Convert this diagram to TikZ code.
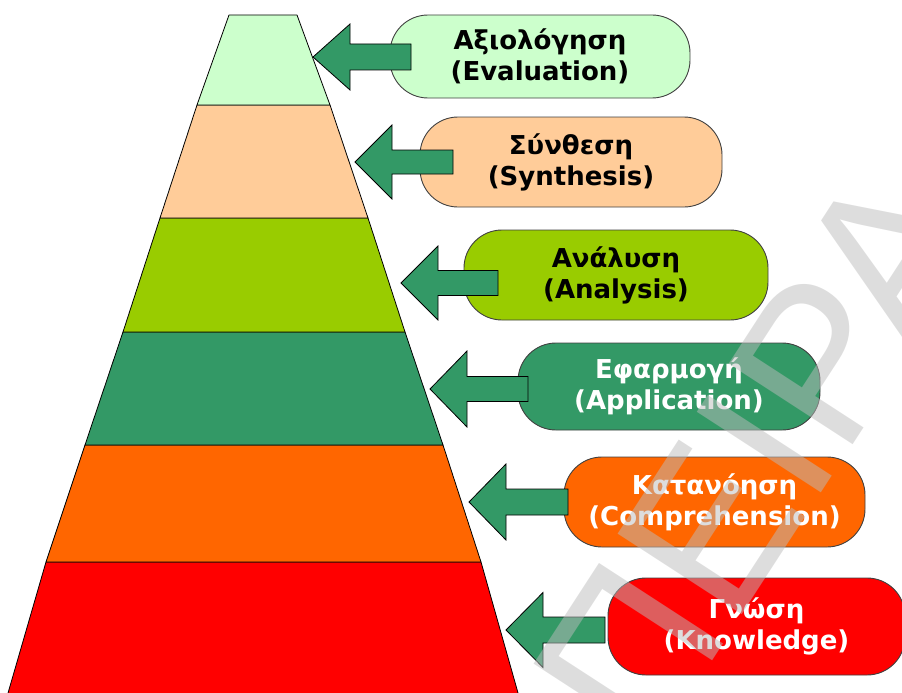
\documentclass[tikz,border=0pt]{standalone}
\usepackage{fontspec}
\setmainfont{DejaVu Sans}
\newfontfamily\markfont{Liberation Sans}
\definecolor{lvlsix}{RGB}{204,255,204}
\definecolor{lvlfive}{RGB}{255,204,153}
\definecolor{lvlfour}{RGB}{153,204,0}
\definecolor{lvlthree}{RGB}{51,153,102}
\definecolor{lvltwo}{RGB}{255,102,0}
\definecolor{lvlone}{RGB}{255,0,0}
\definecolor{arrowgreen}{RGB}{51,153,102}
\definecolor{wmgray}{RGB}{188,188,188}
% block arrow pointing left: tip x, y, tail x, head half-height, shaft half-height
\newcommand\levelarrow[5]{%
  \draw[blockarrow] (#1,#2) -- (#1+37,#2-#4) -- (#1+37,#2-#5) -- (#3,#2-#5)
    -- (#3,#2+#5) -- (#1+37,#2+#5) -- (#1+37,#2+#4) -- cycle;}
\begin{document}
\begin{tikzpicture}[x=1pt,y=-1pt,
  band/.style={draw=black,line width=0.8pt,line join=round},
  levelbox/.style={draw=black!75,line width=0.9pt,rounded corners=38pt,
    inner sep=0pt,align=center,font=\fontsize{26}{31}\selectfont\bfseries},
  blockarrow/.style={fill=arrowgreen,draw=black,line width=0.8pt,line join=miter}]
\useasboundingbox (0,0) rectangle (902,693);
\clip (0,0) rectangle (902,693);

% pyramid, bottom band first
\path[band,fill=lvlone]   (46,562) -- (481,562) -- (520,700) -- (6,700) -- cycle;
\path[band,fill=lvltwo]   (85,445) -- (443,445) -- (481,562) -- (46,562) -- cycle;
\path[band,fill=lvlthree] (123,332) -- (405,332) -- (443,445) -- (85,445) -- cycle;
\path[band,fill=lvlfour]  (160,218) -- (368,218) -- (405,332) -- (123,332) -- cycle;
\path[band,fill=lvlfive]  (197,105) -- (330,105) -- (368,218) -- (160,218) -- cycle;
\path[band,fill=lvlsix]   (229,15) -- (297,15) -- (330,105) -- (197,105) -- cycle;

% level labels
\node[levelbox,fill=lvlsix,minimum width=300pt,minimum height=83pt] (eval) at (540,56.5)
  {Αξιολόγηση\\(Evaluation)};
\node[levelbox,fill=lvlfive,minimum width=302pt,minimum height=90pt] (synth) at (571,162)
  {Σύνθεση\\(Synthesis)};
\node[levelbox,fill=lvlfour,minimum width=304pt,minimum height=90pt] (anal) at (616,275)
  {Ανάλυση\\(Analysis)};
\node[levelbox,fill=lvlthree,text=white,minimum width=302pt,minimum height=87pt] (appl) at (669,386.5)
  {Εφαρμογή\\(Application)};
\node[levelbox,fill=lvltwo,text=white,minimum width=301pt,minimum height=90pt] (compr) at (714.5,502)
  {Κατανόηση\\(Comprehension)};
\node[levelbox,fill=lvlone,text=white,minimum width=297pt,minimum height=97pt] (know) at (756.5,626.5)
  {Γνώση\\(Knowledge)};

% arrows from the labels to the pyramid levels
\levelarrow{313}{57}{411}{33}{13}
\levelarrow{355}{162}{453}{37}{12}
\levelarrow{401}{283}{498}{37}{12.5}
\levelarrow{430}{389}{528}{38}{12.5}
\levelarrow{469}{502}{568}{38}{13}
\levelarrow{506}{630}{605}{37.5}{13}

% watermark
\node[rotate=57,anchor=base west,inner sep=0pt,text=wmgray,opacity=0.5,
  font=\markfont\fontsize{215}{215}\selectfont] (mark) at (648,760) {ΠΕΙΡΑ};
\end{tikzpicture}
\end{document}
